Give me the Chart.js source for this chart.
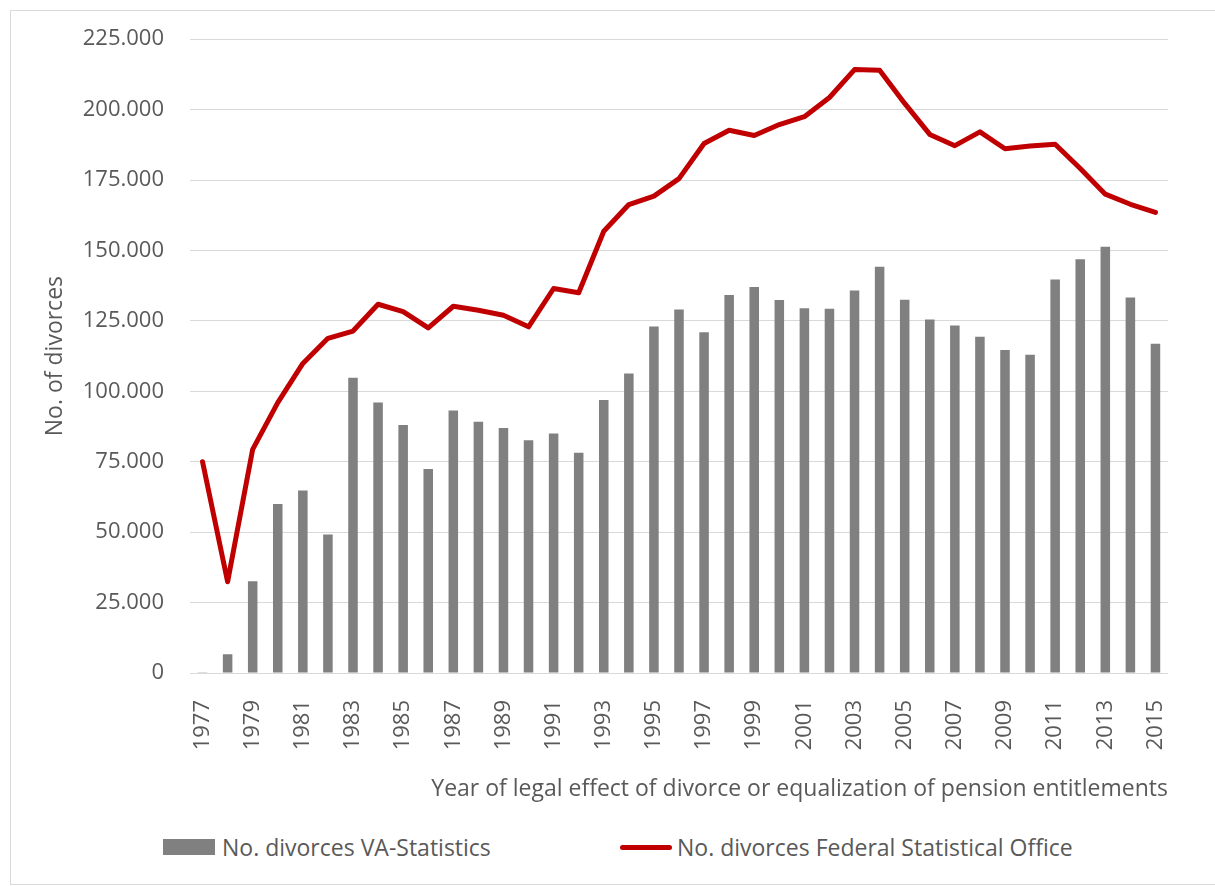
<!DOCTYPE html>
<html>
<head>
<meta charset="utf-8">
<script src="https://cdn.jsdelivr.net/npm/chart.js@4/dist/chart.umd.min.js"></script>
<style>
body{margin:0;background:#fff;overflow:hidden;font-family:"Open Sans",sans-serif;}
#frame{position:absolute;left:10px;top:10px;width:1215px;height:875px;border:1px solid #d9d9d9;box-sizing:border-box;}
#myChart{position:absolute;left:10px;top:0px;}
.leg{position:absolute;top:833px;height:28px;line-height:28px;font-size:23px;color:#595959;white-space:nowrap;}
.swatch{position:absolute;}
</style>
</head>
<body>
<div id="frame"></div>
<canvas id="myChart" width="1205" height="810"></canvas>
<div class="swatch" style="left:163px;top:839px;width:52px;height:16px;background:#808080;"></div>
<div class="leg" style="left:222px;">No. divorces VA-Statistics</div>
<div class="swatch" style="left:620px;top:845px;width:52px;height:5px;background:#c00000;border-radius:3px;"></div>
<div class="leg" style="left:677px;">No. divorces Federal Statistical Office</div>
<script>
const years = ['1977','1978','1979','1980','1981','1982','1983','1984','1985','1986',
    '1987','1988','1989','1990','1991','1992','1993','1994','1995','1996',
    '1997','1998','1999','2000','2001','2002','2003','2004','2005','2006',
    '2007','2008','2009','2010','2011','2012','2013','2014','2015'];

const vaStatistics = [300,6700,32600,60000,64800,49200,104800,96000,88000,72400,
    93200,89200,87000,82600,85000,78200,96900,106300,123000,129000,
    121000,134200,137000,132400,129500,129300,135800,144200,132500,125500,
    123400,119400,114700,113000,139700,146900,151300,133300,116900];

const federalOffice = [75000,32400,79400,96000,109900,118800,121400,130900,128300,122500,
    130200,128800,127000,122900,136500,135000,156800,166300,169300,175500,
    188000,192700,190800,194700,197500,204300,214200,214000,202200,191200,
    187200,192100,186100,187100,187700,179100,170000,166400,163500];

const yMax = 225000;
const yStep = 25000;

function formatNumber(v){
    if(v === 0){
        return '0';
    }
    return v.toLocaleString('de-DE');
}

function drawChart(){
    const can = document.getElementById('myChart');
    const textColor = '#595959';
    const font = {family: '"Open Sans", sans-serif', size: 22};
    const titleFont = {family: '"Open Sans", sans-serif', size: 23};

    const data = {
        labels: years,
        datasets: [{
            type: 'line',
            label: 'No. divorces Federal Statistical Office',
            data: federalOffice,
            borderColor: '#c00000',
            borderWidth: 5,
            pointRadius: 0,
            tension: 0,
            fill: false,
            borderJoinStyle: 'round',
            borderCapStyle: 'round',
            order: 0
        },{
            type: 'bar',
            label: 'No. divorces VA-Statistics',
            data: vaStatistics,
            backgroundColor: '#808080',
            barPercentage: 0.38,
            categoryPercentage: 1,
            order: 1
        }]
    };

    const config = {
        type: 'bar',
        data: data,
        options: {
            responsive: false,
            maintainAspectRatio: false,
            animation: false,
            layout: {padding: {left: 32, right: 47, top: 19, bottom: 0}},
            plugins: {
                legend: {display: false},
                tooltip: {enabled: false}
            },
            scales: {
                x: {
                    grid: {display: false},
                    border: {display: false},
                    ticks: {
                        color: textColor,
                        font: font,
                        autoSkip: false,
                        minRotation: 90,
                        maxRotation: 90,
                        padding: 19,
                        callback: function(val, idx){
                            return idx % 2 === 0 ? years[idx] : '';
                        }
                    },
                    title: {
                        display: true,
                        text: 'Year of legal effect of divorce or equalization of pension entitlements',
                        color: textColor,
                        font: titleFont,
                        align: 'end',
                        padding: {top: 0, bottom: 7}
                    },
                    afterFit: function(scale){
                        scale.height = 137;
                    }
                },
                y: {
                    min: 0,
                    max: yMax,
                    grid: {color: '#d9d9d9', lineWidth: 1, drawTicks: false},
                    border: {display: false},
                    ticks: {
                        stepSize: yStep,
                        color: textColor,
                        font: font,
                        padding: 26,
                        callback: function(v){
                            return formatNumber(v);
                        }
                    },
                    title: {
                        display: true,
                        text: 'No. of divorces',
                        color: textColor,
                        font: titleFont,
                        padding: {top: 0, bottom: 0}
                    },
                    afterFit: function(scale){
                        scale.width = 148;
                    }
                }
            }
        }
    };

    new Chart(can, config);
}

drawChart();
</script>
</body>
</html>
